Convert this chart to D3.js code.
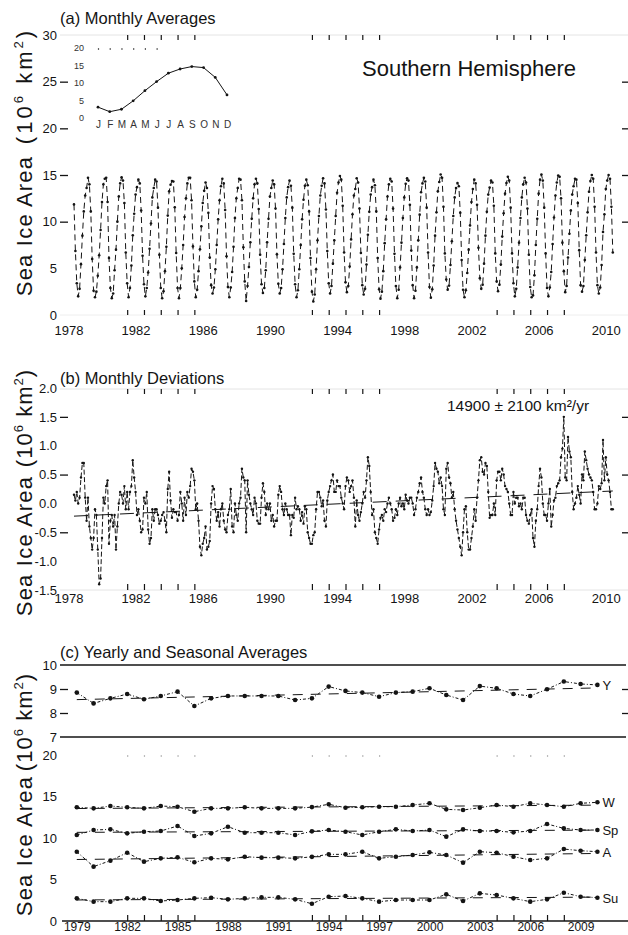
<!DOCTYPE html>
<html><head><meta charset="utf-8">
<script src="https://cdn.jsdelivr.net/npm/d3@7"></script>
<style>
body{margin:0;background:#fff;}
svg{display:block;font-family:"Liberation Sans",Arial,Helvetica,sans-serif;}
</style></head><body>
<svg id="chart" width="628" height="935"></svg>
<script>
// ---------- DATA ----------
// Monthly sea ice area, Nov 1978 .. Dec 2010 (10^6 km^2)
const firstMonth = {year: 1978, month: 11};
const monthlyArea = [
  11.85, 6.85,
  3.4, 2.0, 2.8, 5.45, 8.5, 11.1, 12.8, 13.6, 14.7, 14.0, 11.1, 6.0,
  2.6, 1.9, 2.5, 4.2, 6.4, 9.1, 12.1, 14.0, 14.6, 14.7, 12.1, 6.1,
  2.9, 1.8, 2.3, 4.8, 7.0, 10.0, 12.7, 14.1, 14.75, 14.4, 12.0, 6.7,
  3.4, 1.9, 2.9, 5.3, 8.55, 10.85, 12.9, 13.7, 14.5, 14.1, 11.2, 6.35,
  3.3, 2.0, 2.9, 4.55, 7.1, 9.8, 12.6, 13.6, 14.5, 14.3, 11.5, 6.45,
  2.9, 1.8, 2.55, 4.7, 7.3, 10.65, 13.25, 13.95, 14.35, 14.3, 11.55, 6.65,
  2.9, 1.8, 2.9, 5.0, 7.5, 10.5, 12.5, 14.1, 14.7, 14.7, 12.3, 7.35,
  3.6, 1.9, 2.7, 4.7, 7.05, 9.5, 12.0, 13.3, 14.2, 13.6, 10.95, 6.15,
  3.2, 2.3, 2.95, 4.9, 7.5, 10.25, 12.3, 13.8, 14.6, 14.1, 11.25, 6.3,
  3.0, 1.9, 2.95, 4.6, 7.3, 10.4, 12.5, 13.6, 14.6, 14.5, 12.3, 7.25,
  3.6, 1.5, 3.1, 5.15, 7.8, 10.3, 12.5, 14.0, 14.6, 14.1, 11.35, 6.45,
  3.3, 2.35, 2.9, 4.8, 7.8, 10.3, 12.7, 13.6, 14.4, 14.0, 11.4, 6.5,
  3.35, 2.3, 2.9, 4.9, 7.6, 10.4, 12.6, 13.7, 14.4, 13.85, 11.5, 6.55,
  3.3, 1.9, 2.65, 4.9, 7.5, 10.25, 12.35, 13.85, 14.5, 13.9, 11.1, 6.1,
  2.5, 1.45, 2.2, 4.9, 8.0, 10.6, 12.8, 13.85, 14.65, 14.1, 11.3, 6.85,
  3.4, 2.3, 3.1, 5.5, 8.0, 10.6, 13.1, 14.2, 14.9, 14.5, 11.7, 6.7,
  3.5, 2.45, 3.1, 5.2, 8.1, 10.8, 12.8, 13.5, 14.65, 14.2, 11.4, 6.65,
  3.2, 2.2, 2.8, 5.4, 8.6, 11.05, 12.9, 13.7, 14.5, 13.9, 11.1, 6.1,
  2.75, 1.75, 2.5, 4.7, 7.7, 10.25, 12.7, 14.0, 14.6, 14.3, 11.4, 6.55,
  3.1, 1.8, 2.7, 5.1, 7.75, 10.4, 12.6, 14.05, 14.65, 14.4, 11.8, 6.9,
  3.2, 1.8, 2.6, 5.1, 8.0, 10.75, 13.15, 14.1, 14.7, 14.3, 11.5, 6.7,
  3.0, 1.85, 2.75, 5.3, 8.5, 11.0, 13.25, 14.25, 15.05, 14.7, 11.6, 6.6,
  3.8, 2.7, 3.15, 5.35, 7.9, 10.6, 12.6, 13.6, 14.15, 13.8, 10.95, 5.9,
  2.7, 1.9, 2.65, 4.5, 7.0, 9.6, 12.1, 13.5, 14.5, 14.1, 11.8, 7.2,
  3.95, 2.8, 3.25, 5.5, 8.5, 11.05, 12.9, 13.65, 14.4, 14.2, 11.7, 6.6,
  3.6, 2.55, 3.25, 5.4, 8.4, 10.9, 13.0, 14.15, 14.8, 14.4, 11.5, 6.6,
  3.4, 2.0, 2.8, 5.1, 7.75, 10.4, 12.6, 14.0, 14.7, 14.2, 11.4, 6.45,
  3.0, 1.9, 2.1, 4.25, 7.5, 10.3, 13.0, 14.5, 15.05, 14.4, 11.5, 6.6,
  2.9, 2.0, 2.95, 4.6, 7.6, 10.45, 12.8, 14.2, 14.95, 14.8, 12.5, 7.75,
  4.7, 2.45, 3.1, 6.15, 8.7, 11.2, 12.9, 13.8, 14.6, 14.5, 12.0, 6.95,
  3.2, 2.5, 3.1, 5.9, 8.55, 11.0, 13.2, 14.35, 15.0, 14.6, 11.6, 6.7,
  3.2, 2.3, 2.95, 5.35, 8.9, 10.8, 13.5, 14.4, 15.0, 14.6, 11.6, 6.7
];
// Monthly deviations, Nov 1978 .. Dec 2010 (10^6 km^2)
const monthlyDeviation = [
  0.15, 0.05,
  0.2, 0.0, 0.1, 0.45, 0.7, 0.7, 0.1, -0.3, 0.1, -0.4, -0.6, -0.8,
  -0.6, -0.1, -0.2, -0.8, -1.4, -1.3, -0.6, 0.1, 0.0, 0.3, 0.4, -0.7,
  -0.3, -0.2, -0.4, -0.2, -0.8, -0.4, 0.0, 0.2, 0.15, 0.0, 0.3, -0.1,
  0.2, -0.1, 0.2, 0.3, 0.75, 0.45, 0.2, -0.2, -0.1, -0.3, -0.5, -0.45,
  0.1, 0.0, 0.2, -0.45, -0.7, -0.6, -0.1, -0.3, -0.1, -0.1, -0.2, -0.35,
  -0.3, -0.2, -0.15, -0.3, -0.5, 0.25, 0.55, 0.05, -0.25, -0.1, -0.15, -0.15,
  -0.3, -0.2, 0.2, 0.0, -0.3, 0.1, -0.2, 0.2, 0.1, 0.3, 0.6, 0.55,
  0.4, -0.1, 0.0, -0.3, -0.75, -0.9, -0.7, -0.6, -0.4, -0.8, -0.75, -0.65,
  0.0, 0.3, 0.25, -0.1, -0.3, -0.15, -0.4, -0.1, 0.0, -0.3, -0.45, -0.5,
  -0.2, -0.1, 0.25, -0.4, -0.5, 0.0, -0.2, -0.3, 0.0, 0.1, 0.6, 0.45,
  0.4, -0.5, 0.4, 0.15, 0.0, -0.1, -0.2, 0.1, 0.0, -0.3, -0.35, -0.35,
  0.1, 0.35, 0.2, -0.2, 0.0, -0.1, 0.0, -0.3, -0.2, -0.4, -0.3, -0.3,
  0.15, 0.3, 0.2, -0.1, -0.2, 0.0, -0.1, -0.2, -0.2, -0.55, -0.2, -0.25,
  0.1, -0.1, -0.05, -0.1, -0.3, -0.15, -0.35, -0.05, -0.1, -0.5, -0.6, -0.7,
  -0.7, -0.55, -0.5, -0.1, 0.2, 0.2, 0.1, -0.05, 0.05, -0.3, -0.4, 0.05,
  0.2, 0.3, 0.4, 0.5, 0.2, 0.2, 0.4, 0.3, 0.3, 0.1, 0.0, -0.1,
  0.3, 0.45, 0.4, 0.2, 0.3, 0.4, 0.1, -0.4, 0.05, -0.2, -0.3, -0.15,
  0.0, 0.2, 0.1, 0.4, 0.8, 0.65, 0.2, -0.2, -0.1, -0.5, -0.6, -0.7,
  -0.45, -0.25, -0.2, -0.3, -0.1, -0.15, 0.0, 0.1, 0.0, -0.1, -0.3, -0.25,
  -0.1, -0.2, 0.0, 0.1, -0.05, 0.0, -0.1, 0.15, 0.05, 0.0, 0.1, 0.1,
  0.0, -0.2, -0.1, 0.1, 0.2, 0.35, 0.45, 0.2, 0.1, -0.1, -0.2, -0.1,
  -0.2, -0.15, 0.05, 0.3, 0.7, 0.6, 0.55, 0.35, 0.45, 0.3, -0.1, -0.2,
  0.6, 0.7, 0.45, 0.35, 0.1, 0.2, -0.1, -0.3, -0.45, -0.6, -0.75, -0.9,
  -0.5, -0.1, -0.05, -0.5, -0.8, -0.8, -0.6, -0.4, -0.1, -0.3, 0.1, 0.4,
  0.75, 0.8, 0.55, 0.5, 0.7, 0.65, 0.2, -0.25, -0.2, -0.2, 0.0, -0.2,
  0.4, 0.55, 0.55, 0.4, 0.6, 0.5, 0.3, 0.25, 0.2, 0.0, -0.2, -0.2,
  0.2, 0.0, 0.1, 0.1, -0.05, 0.0, -0.1, 0.1, 0.1, -0.2, -0.3, -0.35,
  -0.2, -0.1, -0.6, -0.75, -0.3, -0.1, 0.3, 0.6, 0.45, 0.0, -0.2, -0.2,
  -0.3, 0.0, 0.25, -0.4, -0.2, 0.05, 0.1, 0.3, 0.35, 0.4, 0.8, 0.95,
  1.5, 0.45, 0.4, 1.15, 0.9, 0.8, 0.2, -0.1, 0.0, 0.1, 0.3, 0.15,
  0.0, 0.5, 0.4, 0.9, 0.75, 0.6, 0.5, 0.45, 0.4, 0.2, -0.1, -0.1,
  0.0, 0.3, 0.25, 0.35, 1.1, 0.4, 0.8, 0.5, 0.4, 0.2, -0.1, -0.1
];
// Inset: monthly climatology
const climMonths = ["J","F","M","A","M","J","J","A","S","O","N","D"];
const climArea = [3.1, 1.8, 2.5, 4.9, 7.8, 10.4, 12.8, 14.0, 14.7, 14.4, 11.6, 6.6];
const climTicks = [0, 5, 10, 15, 20];

// Panel (c): yearly and seasonal averages
const years = [1979,1980,1981,1982,1983,1984,1985,1986,1987,1988,1989,1990,1991,1992,1993,1994,
               1995,1996,1997,1998,1999,2000,2001,2002,2003,2004,2005,2006,2007,2008,2009,2010];
const yearlyAvg = [8.85,8.40,8.61,8.79,8.57,8.71,8.89,8.29,8.61,8.71,8.71,8.71,8.71,8.54,8.61,9.10,
                   8.92,8.85,8.68,8.85,8.89,9.03,8.75,8.54,9.12,9.03,8.79,8.71,8.99,9.31,9.21,9.17];
const winterAvg = [13.70,13.57,13.85,13.70,13.57,13.85,13.77,13.17,13.57,13.57,13.70,13.57,13.57,13.57,13.72,14.06,
                   13.65,13.70,13.77,13.77,13.98,14.18,13.45,13.37,13.65,13.98,13.77,14.18,13.98,13.77,14.18,14.30];
const springAvg = [10.36,10.96,11.04,10.56,10.76,10.84,11.45,10.24,10.56,11.36,10.64,10.64,10.64,10.36,10.80,10.96,
                   10.76,10.36,10.76,11.04,10.84,10.96,10.16,11.04,10.84,10.84,10.68,10.84,11.69,11.16,10.96,10.96];
const autumnAvg = [8.35,6.55,7.27,8.23,7.15,7.55,7.67,7.07,7.55,7.43,7.75,7.63,7.63,7.55,7.73,8.03,
                   8.03,8.35,7.55,7.75,7.95,8.27,7.95,7.03,8.35,8.23,7.75,7.35,7.55,8.67,8.47,8.35];
const summerAvg = [2.73,2.33,2.33,2.73,2.73,2.41,2.53,2.73,2.81,2.61,2.73,2.85,2.85,2.61,2.08,2.93,
                   3.01,2.73,2.33,2.53,2.53,2.53,3.21,2.41,3.33,3.13,2.73,2.33,2.61,3.41,2.93,2.81];
const seasonLabels = ["W", "Sp", "A", "Su"];

const labelYearsAB = [1978,1982,1986,1990,1994,1998,2002,2006,2010];
const labelYearsC = [1979,1982,1985,1988,1991,1994,1997,2000,2003,2006,2009];
const minorTickYears = [1982,1983,1984,1985,1986,1993,1994,1995,1996,1997,2004,2005,2006,2007,2008];
const trendText = "14900 ± 2100 km²/yr";

// ---------- DRAWING ----------
const svg = d3.select("#chart");
const INK = "#141414";
const XL = 60, XR = 628;
const x = d3.scaleLinear().domain([1978, 2012]).range([60, 631]);
const tOf = i => firstMonth.year + (firstMonth.month - 1 + i) / 12;

function yTitle(cxBase, cySea, cyUnit, fs, unitSpacing) {
  svg.append("text").attr("transform", `translate(${cxBase},${cySea}) rotate(-90)`)
    .attr("text-anchor", "middle").attr("font-size", fs).attr("fill", INK)
    .attr("letter-spacing", 1.2).text("Sea Ice Area");
  const t = svg.append("text").attr("transform", `translate(${cxBase},${cyUnit}) rotate(-90)`)
    .attr("text-anchor", "middle").attr("font-size", fs).attr("fill", INK)
    .attr("letter-spacing", unitSpacing);
  t.append("tspan").text("(10");
  t.append("tspan").attr("font-size", fs * 0.6).attr("dy", -fs * 0.42).text("6");
  t.append("tspan").attr("dy", fs * 0.42).text(" km");
  t.append("tspan").attr("font-size", fs * 0.6).attr("dy", -fs * 0.42).text("2");
  t.append("tspan").attr("dy", fs * 0.42).text(")");
}

function clean(g) { g.select(".domain").remove(); return g; }

function yLabels(y, vals, fmt) {
  clean(svg.append("g").attr("transform", `translate(${XL},0)`)
    .call(d3.axisLeft(y).tickValues(vals).tickSize(0).tickPadding(3).tickFormat(fmt)))
    .selectAll("text").attr("font-size", 13).attr("fill", INK).attr("font-family", "Liberation Sans, Arial, sans-serif");
}
function yTicks(y, vals) {
  clean(svg.append("g").attr("transform", `translate(${XL},0)`)
    .call(d3.axisLeft(y).tickValues(vals).tickSize(-8).tickFormat("")))
    .selectAll("line").attr("stroke", INK).attr("stroke-width", 1.3);
  clean(svg.append("g").attr("transform", `translate(${XR},0)`)
    .call(d3.axisRight(y).tickValues(vals).tickSize(-6).tickFormat("")))
    .selectAll("line").attr("stroke", INK).attr("stroke-width", 1.3);
}
function xMinor(yPos, top, color, len) {
  const ax = top ? d3.axisTop(x) : d3.axisBottom(x);
  clean(svg.append("g").attr("transform", `translate(0,${yPos})`)
    .call(ax.tickValues(minorTickYears).tickSize(-len).tickFormat("")))
    .selectAll("line").attr("stroke", color).attr("stroke-width", 1.2);
}
function xLabels(yPos, vals, pad, shift, fs) {
  clean(svg.append("g").attr("transform", `translate(0,${yPos})`)
    .call(d3.axisBottom(x).tickValues(vals.map(v => v + shift)).tickSize(0).tickPadding(pad)
      .tickFormat(d => String(Math.floor(d)))))
    .selectAll("text").attr("font-size", fs || 13).attr("fill", INK).attr("font-family", "Liberation Sans, Arial, sans-serif");
}
function frameLine(x1, y1, x2, y2, color, w) {
  svg.append("line").attr("x1", x1).attr("y1", y1).attr("x2", x2).attr("y2", y2)
    .attr("stroke", color).attr("stroke-width", w);
}
function fitLine(xs, ys) {
  const mx = d3.mean(xs), my = d3.mean(ys);
  const b = d3.sum(xs, (v, i) => (v - mx) * (ys[i] - my)) / d3.sum(xs, v => (v - mx) * (v - mx));
  return v => my + b * (v - mx);
}

// ===== Panel (a) =====
const yA = d3.scaleLinear().domain([0, 30]).range([315, 35]);
frameLine(XL, 35, XR, 35, "#e4e4e4", 1);
frameLine(XL, 315, XR, 315, "#eeeeee", 1);
yLabels(yA, [0, 5, 10, 15, 20, 25, 30], d3.format("d"));
yTicks(yA, [10, 15, 20, 25]);
xMinor(35, true, INK, 5);
xMinor(315, false, INK, 5);
xLabels(315, labelYearsAB, 11, 0.5);
svg.append("text").attr("x", 60).attr("y", 24).attr("font-size", 16.5).attr("fill", INK).text("(a) Monthly Averages");
svg.append("text").attr("x", 362).attr("y", 76).attr("font-size", 22).attr("fill", INK).text("Southern Hemisphere");
yTitle(32, 226, 86, 22, 3);

const lineA = d3.line().x((d, i) => x(tOf(i))).y(d => yA(d));
svg.append("path").datum(monthlyArea).attr("d", lineA).attr("fill", "none")
  .attr("stroke", INK).attr("stroke-width", 1).attr("stroke-dasharray", "6,4");
svg.append("g").selectAll("circle").data(monthlyArea).join("circle")
  .attr("cx", (d, i) => x(tOf(i))).attr("cy", d => yA(d)).attr("r", 1.3).attr("fill", INK);

// inset
const xIn = d3.scalePoint().domain(d3.range(12)).range([98, 227]);
const yIn = d3.scaleLinear().domain([0, 20]).range([118, 48]);
clean(svg.append("g").attr("transform", "translate(86,0)")
  .call(d3.axisLeft(yIn).tickValues(climTicks).tickSize(0).tickPadding(2)))
  .selectAll("text").attr("font-size", 9).attr("fill", "#333");
clean(svg.append("g").attr("transform", "translate(0,118)")
  .call(d3.axisBottom(xIn).tickSize(0).tickPadding(3).tickFormat(i => climMonths[i])))
  .selectAll("text").attr("font-size", 10).attr("fill", "#333");
clean(svg.append("g").attr("transform", "translate(0,48)")
  .call(d3.axisTop(xIn).tickValues(d3.range(6)).tickSize(-2).tickFormat("")))
  .selectAll("line").attr("stroke", "#666").attr("stroke-width", 1.2);
svg.append("path").datum(climArea).attr("d", d3.line().x((d, i) => xIn(i)).y(d => yIn(d)).curve(d3.curveLinear))
  .attr("fill", "none").attr("stroke", INK).attr("stroke-width", 1);
svg.append("g").selectAll("circle").data(climArea).join("circle")
  .attr("cx", (d, i) => xIn(i)).attr("cy", d => yIn(d)).attr("r", 1.4).attr("fill", INK);

// ===== Panel (b) =====
const yB = d3.scaleLinear().domain([-1.5, 2.0]).range([590, 388]);
frameLine(XL, 389, XR, 389, "#e4e4e4", 1);
frameLine(XL, 590, XR, 590, "#e4e4e4", 1);
yLabels(yB, [-1.5, -1.0, -0.5, 0.0, 0.5, 1.0, 1.5, 2.0], d => d.toFixed(1));
yTicks(yB, [-0.5, 0.5, 1.5]);
xMinor(389, true, INK, 5);
xMinor(590, false, INK, 6);
xLabels(590, labelYearsAB, 4, 0.5);
svg.append("text").attr("x", 60).attr("y", 384).attr("font-size", 16.5).attr("fill", INK).text("(b) Monthly Deviations");
svg.append("text").attr("x", 447).attr("y", 411).attr("font-size", 15.5).attr("fill", INK).text(trendText);
yTitle(32, 546, 418, 22, 1);

const tB = monthlyDeviation.map((d, i) => tOf(i));
const fB = fitLine(tB, monthlyDeviation);
svg.append("line").attr("x1", x(tB[0])).attr("x2", x(tB[tB.length - 1]))
  .attr("y1", yB(fB(tB[0]))).attr("y2", yB(fB(tB[tB.length - 1])))
  .attr("stroke", INK).attr("stroke-width", 1).attr("stroke-dasharray", "14,9");
const lineB = d3.line().x((d, i) => x(tOf(i))).y(d => yB(d));
svg.append("path").datum(monthlyDeviation).attr("d", lineB).attr("fill", "none")
  .attr("stroke", INK).attr("stroke-width", 1).attr("stroke-dasharray", "5,2.5");
svg.append("g").selectAll("circle").data(monthlyDeviation).join("circle")
  .attr("cx", (d, i) => x(tOf(i))).attr("cy", d => yB(d)).attr("r", 1.2).attr("fill", INK);

// ===== Panel (c) =====
const yCy = d3.scaleLinear().domain([7, 10]).range([737, 665]);
const yCs = d3.scaleLinear().domain([0, 20]).range([921, 755]);
frameLine(XL, 665, 626, 665, INK, 1.6);
frameLine(XL, 737, 626, 737, INK, 1.6);
frameLine(62, 921, XR, 921, INK, 1.5);
yLabels(yCy, [7, 8, 9, 10], d3.format("d"));
yLabels(yCs, [0, 5, 10, 15, 20], d3.format("d"));
yTicks(yCy, [8, 9]);
xMinor(921, false, INK, 6);
xMinor(755, true, "#bbbbbb", 2);
xLabels(921, labelYearsC, 1, 0, 12);
svg.append("text").attr("x", 60).attr("y", 658).attr("font-size", 16.5).attr("fill", INK).text("(c) Yearly and Seasonal Averages");
yTitle(32, 846, 722, 22, 1);

function seriesC(vals, yScale, label) {
  const f = fitLine(years, vals);
  svg.append("line").attr("x1", x(years[0])).attr("x2", x(years[years.length - 1]))
    .attr("y1", yScale(f(years[0]))).attr("y2", yScale(f(years[years.length - 1])))
    .attr("stroke", INK).attr("stroke-width", 1).attr("stroke-dasharray", "10,8");
  svg.append("path").datum(vals).attr("d", d3.line().x((d, i) => x(years[i])).y(d => yScale(d)))
    .attr("fill", "none").attr("stroke", INK).attr("stroke-width", 1).attr("stroke-dasharray", "3,2,1,2");
  svg.append("g").selectAll("circle").data(vals).join("circle")
    .attr("cx", (d, i) => x(years[i])).attr("cy", d => yScale(d)).attr("r", 2.3).attr("fill", INK);
  svg.append("text").attr("x", x(years[years.length - 1]) + 5).attr("y", yScale(vals[vals.length - 1]) + 5)
    .attr("font-size", 13).attr("fill", INK).text(label);
}
seriesC(yearlyAvg, yCy, "Y");
seriesC(winterAvg, yCs, seasonLabels[0]);
seriesC(springAvg, yCs, seasonLabels[1]);
seriesC(autumnAvg, yCs, seasonLabels[2]);
seriesC(summerAvg, yCs, seasonLabels[3]);
</script>
</body></html>
